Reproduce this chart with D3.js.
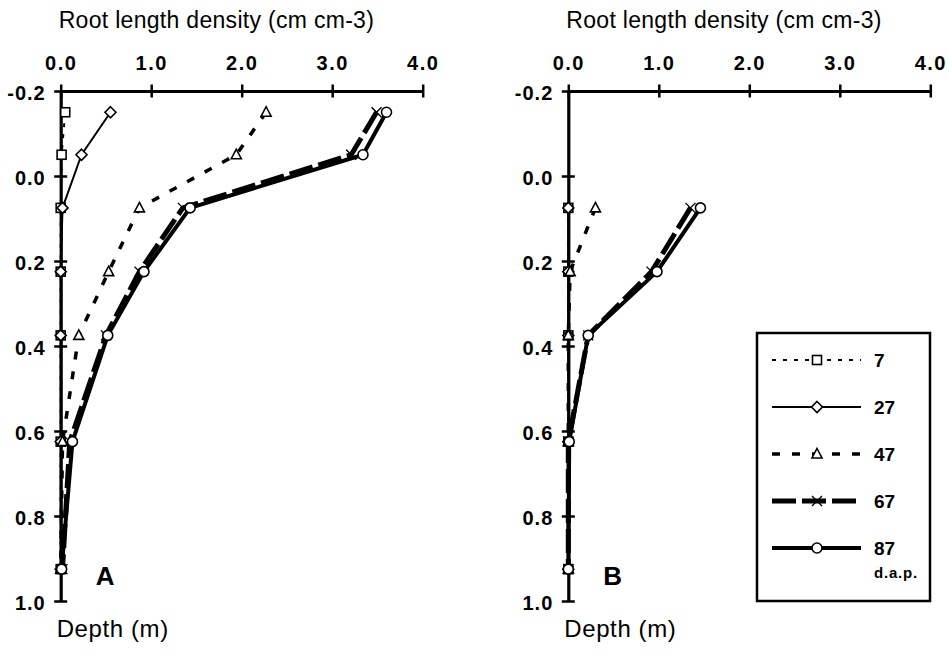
<!DOCTYPE html>
<html>
<head>
<meta charset="utf-8">
<script src="https://cdn.jsdelivr.net/npm/d3@7"></script>
<style>
  body { margin: 0; background: #fff; }
  svg text { font-family: "Liberation Sans", Arial, Helvetica, sans-serif; fill: #000; }
</style>
</head>
<body>
<div id="chart"></div>
<script>
// depths (m) of the sampled layers
const depthsA = [-0.15, -0.05, 0.075, 0.225, 0.375, 0.625, 0.925];
const depthsB = [0.075, 0.225, 0.375, 0.625, 0.925];

// root length density (cm cm-3), panel A, by days after planting
const a7  = [0.05, 0.01, 0.0, 0.0, 0.0, 0.0, 0.0];
const a27 = [0.55, 0.23, 0.02, 0.0, 0.0, 0.0, 0.0];
const a47 = [2.27, 1.94, 0.87, 0.53, 0.2, 0.02, 0.0];
const a67 = [3.49, 3.21, 1.35, 0.87, 0.5, 0.1, 0.02];
const a87 = [3.6, 3.34, 1.43, 0.92, 0.52, 0.13, 0.01];

// panel B
const b7  = [0.0, 0.0, 0.0, 0.0, 0.0];
const b27 = [0.0, 0.0, 0.0, 0.0, 0.0];
const b47 = [0.3, 0.02, 0.0, 0.0, 0.0];
const b67 = [1.35, 0.92, 0.22, 0.0, 0.0];
const b87 = [1.46, 0.98, 0.22, 0.01, 0.0];

const dapLabels = ["7", "27", "47", "67", "87"];
const xTicks = [0, 1, 2, 3, 4];
const yTicks = [-0.2, 0, 0.2, 0.4, 0.6, 0.8, 1.0];

// line look for each series: dash, width, marker
const styles = [
  {dash: "4,7", w: 2, marker: "square"},
  {dash: null, w: 2, marker: "diamond"},
  {dash: "8,12", w: 3.5, marker: "triangle"},
  {dash: "24,6", w: 5, marker: "cross"},
  {dash: null, w: 4, marker: "circle"}
];

var width = 949, height = 656;
var svg = d3.select("#chart").append("svg")
    .attr("width", width)
    .attr("height", height);

function drawMarker(g, type, cx, cy) {
    if (type == "circle") {
        g.append("circle").attr("cx", cx).attr("cy", cy).attr("r", 5)
            .attr("fill", "#fff").attr("stroke", "#000").attr("stroke-width", 1.6);
    } else if (type == "square") {
        g.append("rect").attr("x", cx - 4.5).attr("y", cy - 4.5).attr("width", 9).attr("height", 9)
            .attr("fill", "#fff").attr("stroke", "#000").attr("stroke-width", 1.6);
    } else if (type == "diamond") {
        g.append("path").attr("d", `M${cx},${cy-5.5}L${cx+5.5},${cy}L${cx},${cy+5.5}L${cx-5.5},${cy}Z`)
            .attr("fill", "#fff").attr("stroke", "#000").attr("stroke-width", 1.6);
    } else if (type == "triangle") {
        g.append("path").attr("d", `M${cx},${cy-5.5}L${cx+5},${cy+4}L${cx-5},${cy+4}Z`)
            .attr("fill", "#fff").attr("stroke", "#000").attr("stroke-width", 1.6);
    } else if (type == "cross") {
        g.append("path").attr("d", `M${cx-5},${cy-5}L${cx+5},${cy+5}M${cx-5},${cy+5}L${cx+5},${cy-5}`)
            .attr("fill", "none").attr("stroke", "#000").attr("stroke-width", 1.4);
    }
}

function drawPanel(ox, depths, seriesList, letter) {
    var x = d3.scaleLinear().domain([0, 4]).range([ox, ox + 362]);
    var y = d3.scaleLinear().domain([-0.2, 1.0]).range([91, 601]);
    var g = svg.append("g");

    // title
    g.append("text")
        .attr("x", ox - 2)
        .attr("y", 28)
        .attr("font-size", "23px")
        .attr("letter-spacing", "0.3px")
        .text("Root length density (cm cm-3)");

    // top axis
    var xAxis = g.append("g")
        .attr("transform", `translate(0,${y(-0.2)})`)
        .call(d3.axisTop(x).tickValues(xTicks).tickFormat(d => d.toFixed(1)).tickSizeOuter(0));
    xAxis.select(".domain").attr("stroke-width", 3.2);
    xAxis.selectAll(".tick line").attr("y1", -6.5).attr("y2", 6.5).attr("stroke-width", 2.5);
    xAxis.selectAll(".tick text")
        .attr("y", -21).attr("dy", 0)
        .attr("font-size", "20px").attr("font-weight", "bold")
        .attr("letter-spacing", "1.5px")
        .attr("font-family", "'Liberation Sans', Arial, sans-serif");

    // left axis
    var yAxis = g.append("g")
        .attr("transform", `translate(${x(0)},0)`)
        .call(d3.axisLeft(y).tickValues(yTicks).tickFormat(d => d.toFixed(1)).tickSizeOuter(0));
    yAxis.select(".domain").attr("stroke-width", 3.2);
    yAxis.selectAll(".tick line").attr("x1", -6.5).attr("x2", 6.5).attr("stroke-width", 2.5);
    yAxis.selectAll(".tick text")
        .attr("x", -15).attr("dy", "0.42em")
        .attr("font-size", "20px").attr("font-weight", "bold")
        .attr("letter-spacing", "1px")
        .attr("font-family", "'Liberation Sans', Arial, sans-serif");

    var line = d3.line()
        .x(d => x(d[0]))
        .y(d => y(d[1]));

    seriesList.forEach((vals, i) => {
        var pts = vals.map((v, k) => [v, depths[k]]);
        g.append("path")
            .attr("d", line(pts))
            .attr("fill", "none")
            .attr("stroke", "#000")
            .attr("stroke-width", styles[i].w)
            .attr("stroke-dasharray", styles[i].dash)
            .attr("stroke-linejoin", "round");
    });
    seriesList.forEach((vals, i) => {
        vals.forEach((v, k) => drawMarker(g, styles[i].marker, x(v), y(depths[k])));
    });

    g.append("text")
        .attr("x", ox + 35)
        .attr("y", 585)
        .attr("font-size", "26px")
        .attr("font-weight", "bold")
        .text(letter);

    g.append("text")
        .attr("x", ox - 4)
        .attr("y", 637)
        .attr("font-size", "24px")
        .attr("letter-spacing", "0.6px")
        .text("Depth (m)");
}

drawPanel(60.7, depthsA, [a7, a27, a47, a67, a87], "A");
drawPanel(568.3, depthsB, [b7, b27, b47, b67, b87], "B");

// legend
var legend = svg.append("g");
legend.append("rect")
    .attr("x", 757).attr("y", 333)
    .attr("width", 173).attr("height", 268)
    .attr("fill", "#fff").attr("stroke", "#000").attr("stroke-width", 2.5);

dapLabels.forEach((lab, i) => {
    var ly = 360 + i * 47;
    legend.append("line")
        .attr("x1", 772).attr("x2", 861)
        .attr("y1", ly).attr("y2", ly)
        .attr("stroke", "#000")
        .attr("stroke-width", styles[i].w)
        .attr("stroke-dasharray", styles[i].dash);
    drawMarker(legend, styles[i].marker, 817, ly);
    legend.append("text")
        .attr("x", 874).attr("y", ly)
        .attr("dy", "0.38em")
        .attr("font-size", "19px")
        .attr("font-weight", "bold")
        .text(lab);
});
legend.append("text")
    .attr("x", 874).attr("y", 578)
    .attr("font-size", "15px")
    .attr("font-weight", "bold")
    .attr("letter-spacing", "0.8px")
    .text("d.a.p.");
</script>
</body>
</html>
